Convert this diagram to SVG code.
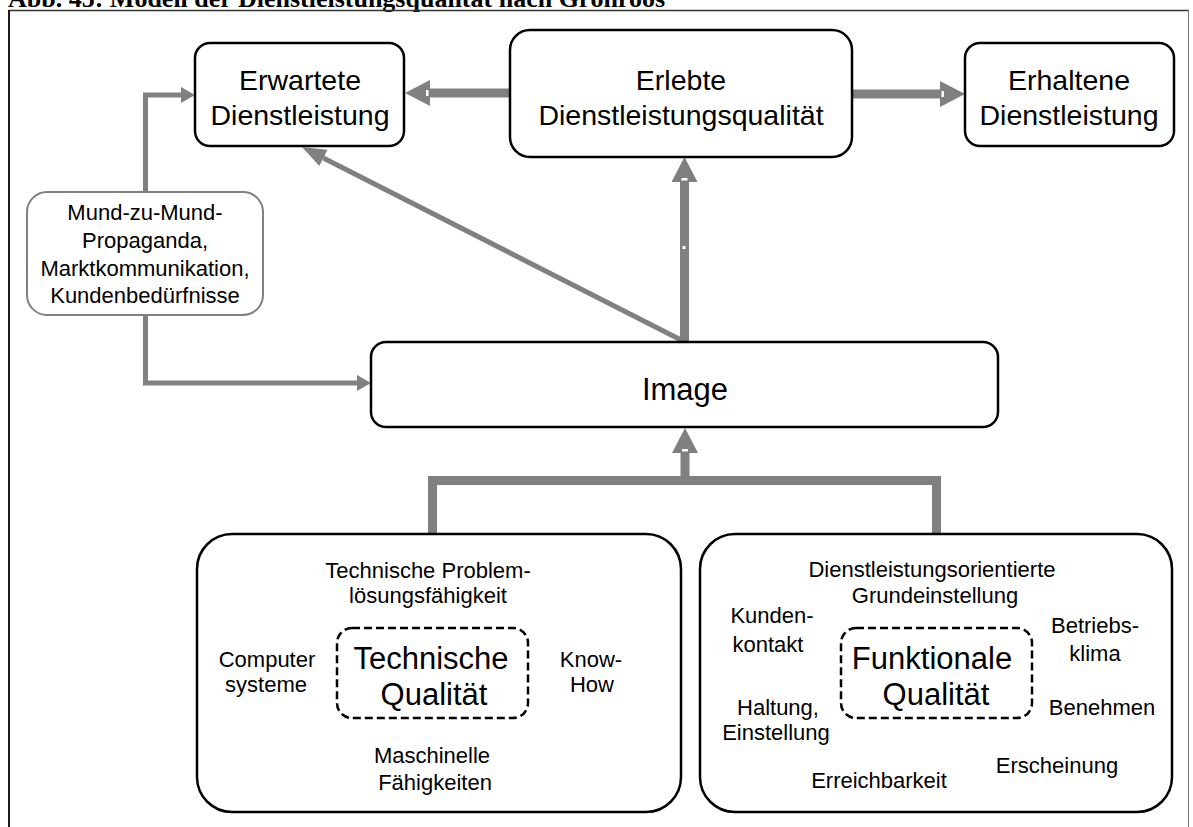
<svg xmlns="http://www.w3.org/2000/svg" width="1193" height="827" viewBox="0 0 1193 827">
  <style>
    .box { fill: #ffffff; stroke: #000000; stroke-width: 2.5; }
    .soft { fill: #ffffff; stroke: #808080; stroke-width: 2; }
    .dash { fill: none; stroke: #000000; stroke-width: 2.5; stroke-dasharray: 8 4; }
    .t { font-family: "Liberation Sans", Arial, sans-serif; fill: #000000; text-anchor: middle; }
    .big { font-size: 28.5px; }
    .img { font-size: 31px; }
    .q { font-size: 31px; }
    .s { font-size: 22px; }
    .wide { fill: none; stroke: #808080; stroke-width: 9; }
    .thin { fill: none; stroke: #808080; stroke-width: 5; }
    .title { font-family: "Liberation Serif", "Times New Roman", serif; font-weight: bold; font-size: 26px; fill: #000000; }
  </style>
  <defs>
    <!-- wide arrowhead, starts where the shaft ends -->
    <marker id="headWide" markerUnits="userSpaceOnUse" viewBox="0 0 25 26" refX="0" refY="13" markerWidth="25" markerHeight="26" orient="auto">
      <path d="M0,0 L25,13 L0,26 Z" fill="#808080"/>
      <rect x="1.5" y="10" width="2.5" height="6" fill="#ffffff"/>
    </marker>
    <marker id="headThin" markerUnits="userSpaceOnUse" viewBox="0 0 14 16" refX="0" refY="8" markerWidth="14" markerHeight="16" orient="auto">
      <path d="M0,0 L14,8 L0,16 Z" fill="#808080"/>
    </marker>
    <marker id="headDiag" markerUnits="userSpaceOnUse" viewBox="0 0 24 18" refX="0" refY="9" markerWidth="24" markerHeight="18" orient="auto">
      <path d="M0,0 L24,9 L0,18 Z" fill="#808080"/>
    </marker>
  </defs>

  <!-- heading and frame -->
  <text class="title" x="8" y="7">Abb. 45: Modell der Dienstleistungsqualität nach Grönroos</text>
  <g id="frame">
    <line x1="9" y1="10.5" x2="1189" y2="10.5" stroke="#333333" stroke-width="1.5"/>
    <line x1="9" y1="10" x2="9" y2="827" stroke="#1a1a1a" stroke-width="2"/>
    <line x1="1188.5" y1="10" x2="1188.5" y2="827" stroke="#777777" stroke-width="1"/>
  </g>

  <!-- connectors -->
  <g id="connectors">
    <!-- Erlebte -> Erwartete -->
    <line class="wide" x1="510" y1="93" x2="430" y2="93" marker-end="url(#headWide)"/>
    <!-- Erlebte -> Erhaltene -->
    <line class="wide" x1="852" y1="94" x2="940" y2="94" marker-end="url(#headWide)"/>
    <!-- Image -> Erlebte -->
    <line class="wide" x1="684.5" y1="342" x2="684.5" y2="182" marker-end="url(#headWide)"/>
    <rect x="682.5" y="246" width="3" height="3" fill="#ffffff"/>
    <!-- Image -> Erwartete -->
    <line class="thin" x1="683" y1="341" x2="323.4" y2="157.9" marker-end="url(#headDiag)"/>
    <!-- Mund-zu-Mund -> Erwartete -->
    <polyline class="thin" points="145.5,192 145.5,95 181,95" marker-end="url(#headThin)"/>
    <!-- Mund-zu-Mund -> Image -->
    <polyline class="thin" points="145.5,315 145.5,383 357,383" marker-end="url(#headThin)"/>
    <!-- Technische / Funktionale Qualität -> Image -->
    <polyline class="wide" points="432.5,534 432.5,480.5 936.5,480.5 936.5,534" stroke-linejoin="miter"/>
    <line class="wide" x1="685" y1="480" x2="685" y2="453" marker-end="url(#headWide)"/>
  </g>

  <g id="erwartete">
    <rect class="box" x="195" y="43" width="209" height="103" rx="15"/>
    <text class="t big" x="300" y="90">Erwartete</text>
    <text class="t big" x="300" y="125">Dienstleistung</text>
  </g>

  <g id="erlebte">
    <rect class="box" x="510" y="30" width="342" height="127" rx="20"/>
    <text class="t big" x="681" y="90">Erlebte</text>
    <text class="t big" x="681" y="125">Dienstleistungsqualität</text>
  </g>

  <g id="erhaltene">
    <rect class="box" x="965" y="43" width="209" height="103" rx="15"/>
    <text class="t big" x="1069" y="90">Erhaltene</text>
    <text class="t big" x="1069" y="125">Dienstleistung</text>
  </g>

  <g id="einfluesse">
    <rect class="soft" x="27" y="192" width="236" height="123" rx="20"/>
    <text class="t s" x="145" y="220">Mund-zu-Mund-</text>
    <text class="t s" x="145" y="248">Propaganda,</text>
    <text class="t s" x="145" y="276">Marktkommunikation,</text>
    <text class="t s" x="145" y="303">Kundenbedürfnisse</text>
  </g>

  <g id="image">
    <rect class="box" x="371" y="342" width="627" height="85" rx="15"/>
    <text class="t img" x="685" y="400">Image</text>
  </g>

  <g id="technische-qualitaet">
    <rect class="box" x="197" y="534" width="484" height="278" rx="35"/>
    <rect class="dash" x="337" y="628" width="191" height="90" rx="15"/>
    <text class="t q" x="431" y="669">Technische</text>
    <text class="t q" x="434" y="705">Qualität</text>
    <text class="t s" x="428" y="578">Technische Problem-</text>
    <text class="t s" x="428" y="603">lösungsfähigkeit</text>
    <text class="t s" x="267" y="667">Computer</text>
    <text class="t s" x="266" y="692">systeme</text>
    <text class="t s" x="591" y="667">Know-</text>
    <text class="t s" x="592" y="692">How</text>
    <text class="t s" x="432" y="763">Maschinelle</text>
    <text class="t s" x="435" y="790">Fähigkeiten</text>
  </g>

  <g id="funktionale-qualitaet">
    <rect class="box" x="700" y="534" width="472" height="278" rx="35"/>
    <rect class="dash" x="841" y="628" width="191" height="90" rx="15"/>
    <text class="t q" x="932" y="669">Funktionale</text>
    <text class="t q" x="936" y="705">Qualität</text>
    <text class="t s" x="932" y="577">Dienstleistungsorientierte</text>
    <text class="t s" x="935" y="603">Grundeinstellung</text>
    <text class="t s" x="772" y="623">Kunden-</text>
    <text class="t s" x="768" y="652">kontakt</text>
    <text class="t s" x="1095" y="633">Betriebs-</text>
    <text class="t s" x="1095" y="661">klima</text>
    <text class="t s" x="778" y="715">Haltung,</text>
    <text class="t s" x="776" y="740">Einstellung</text>
    <text class="t s" x="1102" y="715">Benehmen</text>
    <text class="t s" x="1057" y="773">Erscheinung</text>
    <text class="t s" x="879" y="788">Erreichbarkeit</text>
  </g>
</svg>
